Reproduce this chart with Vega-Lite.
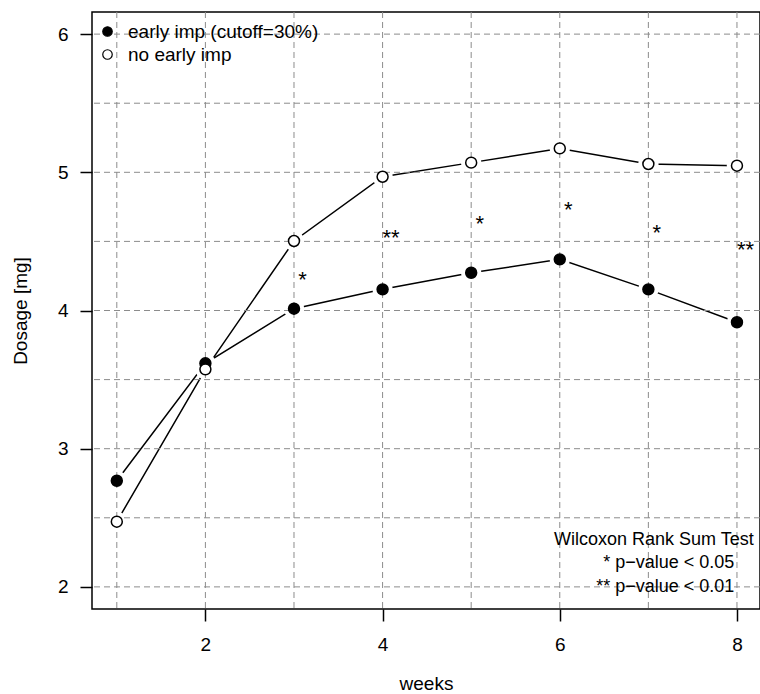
{
  "$schema": "https://vega.github.io/schema/vega-lite/v6.json",
  "width": 668,
  "height": 597,
  "autosize": "none",
  "padding": {"left": 92, "top": 12, "right": 0, "bottom": 85},
  "background": "white",
  "config": {
    "font": "Liberation Sans",
    "view": {"stroke": "black", "strokeWidth": 1.5}
  },
  "datasets": {
    "series": [
      {"week": 1, "dose": 2.768, "group": "early imp (cutoff=30%)"},
      {"week": 2, "dose": 3.618, "group": "early imp (cutoff=30%)"},
      {"week": 3, "dose": 4.013, "group": "early imp (cutoff=30%)"},
      {"week": 4, "dose": 4.153, "group": "early imp (cutoff=30%)"},
      {"week": 5, "dose": 4.273, "group": "early imp (cutoff=30%)"},
      {"week": 6, "dose": 4.37, "group": "early imp (cutoff=30%)"},
      {"week": 7, "dose": 4.153, "group": "early imp (cutoff=30%)"},
      {"week": 8, "dose": 3.915, "group": "early imp (cutoff=30%)"},
      {"week": 1, "dose": 2.472, "group": "no early imp"},
      {"week": 2, "dose": 3.574, "group": "no early imp"},
      {"week": 3, "dose": 4.503, "group": "no early imp"},
      {"week": 4, "dose": 4.968, "group": "no early imp"},
      {"week": 5, "dose": 5.07, "group": "no early imp"},
      {"week": 6, "dose": 5.173, "group": "no early imp"},
      {"week": 7, "dose": 5.06, "group": "no early imp"},
      {"week": 8, "dose": 5.048, "group": "no early imp"}
    ],
    "stars": [
      {"week": 3, "dose": 4.257, "sig": "*"},
      {"week": 4, "dose": 4.563, "sig": "**"},
      {"week": 5, "dose": 4.669, "sig": "*"},
      {"week": 6, "dose": 4.77, "sig": "*"},
      {"week": 7, "dose": 4.604, "sig": "*"},
      {"week": 8, "dose": 4.481, "sig": "**"}
    ],
    "notes": [
      {"week": 8.19, "dose": 2.34, "note": "Wilcoxon Rank Sum Test"},
      {"week": 7.97, "dose": 2.17, "note": "* p−value < 0.05"},
      {"week": 7.97, "dose": 2.0, "note": "** p−value < 0.01"}
    ],
    "xgrid": [
      {"week": 1}, {"week": 2}, {"week": 3}, {"week": 4},
      {"week": 5}, {"week": 6}, {"week": 7}, {"week": 8}
    ],
    "ygrid": [
      {"dose": 2}, {"dose": 2.5}, {"dose": 3}, {"dose": 3.5}, {"dose": 4},
      {"dose": 4.5}, {"dose": 5}, {"dose": 5.5}, {"dose": 6}
    ]
  },
  "layer": [
    {
      "data": {"name": "series"},
      "mark": {"type": "line", "color": "black", "strokeWidth": 1.5},
      "encoding": {
        "x": {
          "field": "week", "type": "quantitative",
          "scale": {"domain": [0.72, 8.26], "nice": false, "zero": false},
          "axis": {
            "values": [2, 4, 6, 8], "format": "d", "title": "weeks", "grid": false, "domain": false,
            "tickColor": "black", "tickWidth": 1.5, "tickSize": 12,
            "labelFontSize": 19, "labelColor": "black", "labelPadding": 14, "labelFlush": false,
            "titleFontSize": 19, "titleFontWeight": "normal", "titleColor": "black", "titlePadding": 20
          }
        },
        "y": {
          "field": "dose", "type": "quantitative",
          "scale": {"domain": [1.84, 6.16], "nice": false, "zero": false},
          "axis": {
            "values": [2, 3, 4, 5, 6], "format": "d", "title": "Dosage [mg]", "grid": false, "domain": false,
            "tickColor": "black", "tickWidth": 1.5, "tickSize": 12,
            "labelFontSize": 19, "labelColor": "black", "labelPadding": 12,
            "titleFontSize": 19, "titleFontWeight": "normal", "titleColor": "black", "titlePadding": 27
          }
        },
        "detail": {"field": "group"}
      }
    },
    {
      "data": {"name": "series"},
      "mark": {"type": "point", "shape": "circle", "filled": true, "fill": "white", "strokeWidth": 0, "size": 420, "opacity": 1},
      "encoding": {
        "x": {"field": "week", "type": "quantitative"},
        "y": {"field": "dose", "type": "quantitative"}
      }
    },
    {
      "data": {"name": "xgrid"},
      "mark": {"type": "rule", "stroke": "#8c8c8c", "strokeWidth": 1, "strokeDash": [6, 4]},
      "encoding": {
        "x": {"field": "week", "type": "quantitative"}
      }
    },
    {
      "data": {"name": "ygrid"},
      "mark": {"type": "rule", "stroke": "#8c8c8c", "strokeWidth": 1, "strokeDash": [6, 4]},
      "encoding": {
        "y": {"field": "dose", "type": "quantitative"}
      }
    },
    {
      "data": {"name": "series"},
      "mark": {"type": "point", "shape": "circle", "filled": true, "stroke": "black", "strokeWidth": 1.5, "size": 120, "opacity": 1},
      "encoding": {
        "x": {"field": "week", "type": "quantitative"},
        "y": {"field": "dose", "type": "quantitative"},
        "fill": {
          "field": "group", "type": "nominal",
          "scale": {"domain": ["early imp (cutoff=30%)", "no early imp"], "range": ["black", "white"]},
          "legend": {
            "orient": "none", "legendX": 6, "legendY": 10, "title": null,
            "labelFontSize": 19, "labelColor": "black", "labelOffset": 11, "labelLimit": 400,
            "symbolType": "circle", "symbolSize": 90, "symbolStrokeColor": "black", "symbolStrokeWidth": 1.2,
            "rowPadding": 3, "padding": 0
          }
        }
      }
    },
    {
      "data": {"name": "stars"},
      "mark": {"type": "text", "fontSize": 22, "color": "black", "align": "center", "baseline": "alphabetic", "dx": 8.5, "dy": 12.5},
      "encoding": {
        "x": {"field": "week", "type": "quantitative"},
        "y": {"field": "dose", "type": "quantitative"},
        "text": {"field": "sig"}
      }
    },
    {
      "data": {"name": "notes"},
      "mark": {"type": "text", "fontSize": 18, "color": "black", "align": "right", "baseline": "middle"},
      "encoding": {
        "x": {"field": "week", "type": "quantitative"},
        "y": {"field": "dose", "type": "quantitative"},
        "text": {"field": "note"}
      }
    }
  ]
}
